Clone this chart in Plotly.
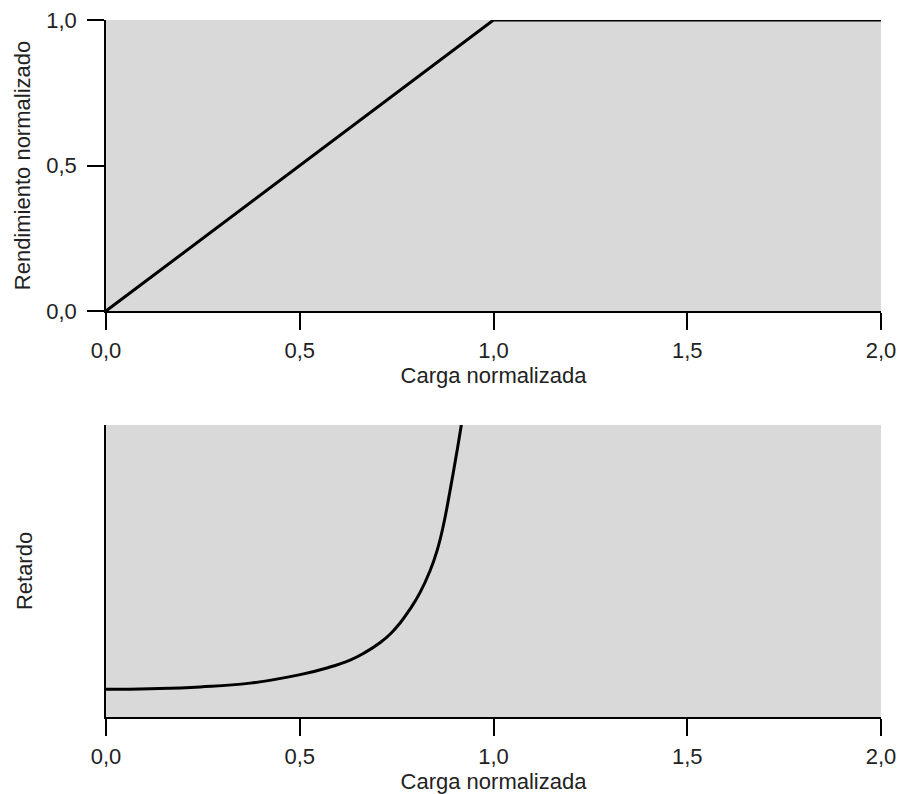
import plotly.graph_objects as go

# Top panel: throughput vs load
load_top = [0.0, 1.0, 2.0]
throughput = [0.0, 1.0, 1.0]

# Bottom panel: delay vs load (arbitrary units)
load_bottom = [0.0, 0.114, 0.243, 0.372, 0.501, 0.570, 0.630, 0.670, 0.707, 0.735, 0.759,
               0.785, 0.810, 0.836, 0.854, 0.870, 0.888, 0.906, 0.920]
delay = [0.95, 0.97, 1.03, 1.16, 1.45, 1.68, 1.95, 2.22, 2.54, 2.86, 3.22,
         3.70, 4.25, 5.00, 5.68, 6.52, 7.76, 9.12, 10.25]

x_ticks = [0.0, 0.5, 1.0, 1.5, 2.0]
y_ticks_top = [0.0, 0.5, 1.0]

FONT = "Liberation Sans, Arial, sans-serif"
BG = "#d9d9d9"
FS = 22

fig = go.Figure()
fig.add_trace(go.Scatter(x=load_top, y=throughput, mode="lines",
                         line=dict(color="black", width=3), xaxis="x", yaxis="y",
                         showlegend=False, hoverinfo="skip"))
fig.add_trace(go.Scatter(x=load_bottom, y=delay, mode="lines",
                         line=dict(color="black", width=3, shape="spline", smoothing=1.3),
                         xaxis="x2", yaxis="y2", showlegend=False, hoverinfo="skip"))

axis_common = dict(showline=True, linecolor="black", linewidth=1.5, showgrid=False,
                   zeroline=False, ticks="outside", ticklen=17, tickwidth=1.5,
                   tickcolor="black", tickfont=dict(size=FS, color="#222"),
                   mirror=False, automargin=False)

fig.update_layout(
    width=904, height=794,
    margin=dict(l=106, r=23, t=20, b=77),
    paper_bgcolor="white", plot_bgcolor=BG,
    separators=",.",
    font=dict(family=FONT, color="#222"),
    xaxis=dict(domain=[0, 1], anchor="y", range=[0, 2], tickvals=x_ticks,
               tickformat=".1f", ticklabelstandoff=2,
               title=dict(text="Carga normalizada", font=dict(size=FS), standoff=4),
               **axis_common),
    yaxis=dict(domain=[0.5825, 1], anchor="x", range=[0, 1], tickvals=y_ticks_top,
               tickformat=".1f", ticklabelstandoff=6,
               title=dict(text="Rendimiento normalizado", font=dict(size=FS), standoff=10),
               **axis_common),
    xaxis2=dict(domain=[0, 1], anchor="y2", range=[0, 2], tickvals=x_ticks,
                tickformat=".1f", ticklabelstandoff=2,
                title=dict(text="Carga normalizada", font=dict(size=FS), standoff=4),
                **axis_common),
    yaxis2=dict(domain=[0, 0.419], anchor="x2", range=[0, 10],
                showline=True, linecolor="black", linewidth=1.5, showgrid=False,
                zeroline=False, ticks="", showticklabels=False, automargin=False,
                title=dict(text="Retardo", font=dict(size=FS), standoff=66)),
)

fig.write_html("out.html")
